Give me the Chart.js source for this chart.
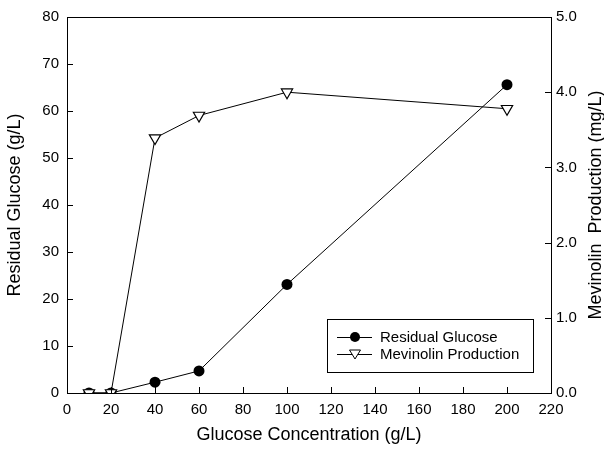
<!DOCTYPE html>
<html>
<head>
<meta charset="utf-8">
<script src="https://cdn.jsdelivr.net/npm/chart.js@4/dist/chart.umd.min.js"></script>
<style>
  html, body { margin: 0; padding: 0; background: #fff; }
  #wrap { width: 604px; height: 450px; }
</style>
</head>
<body>
<div id="wrap"><canvas id="chart" width="604" height="450"></canvas></div>
<script>
// data
const glucoseConc = [10, 20, 40, 60, 100, 200];
const residualGlucose = [0, 0, 2.3, 4.7, 23.1, 65.6];
const mevinolin = [0, 0, 3.39, 3.69, 4.0, 3.78];
const xTicks = [0, 20, 40, 60, 80, 100, 120, 140, 160, 180, 200, 220];

const FONT = 'Liberation Sans, Arial, Helvetica, sans-serif';

// frame, inward ticks, right title and boxed legend
const framePlugin = {
    id: 'frame',
    afterDraw(chart) {
        const c = chart.ctx;
        const a = chart.chartArea;
        const sx = chart.scales.x, sy = chart.scales.y, sy2 = chart.scales.y2;
        c.save();
        c.strokeStyle = '#000';
        c.lineWidth = 1;
        c.strokeRect(a.left + 0.5, a.top + 0.5, a.right - a.left, a.bottom - a.top);
        c.beginPath();
        sx.ticks.forEach(t => {
            const px = Math.round(sx.getPixelForValue(t.value)) + 0.5;
            c.moveTo(px, a.bottom); c.lineTo(px, a.bottom - 6);
        });
        sy.ticks.forEach(t => {
            const py = Math.round(sy.getPixelForValue(t.value)) + 0.5;
            c.moveTo(a.left, py); c.lineTo(a.left + 6, py);
        });
        sy2.ticks.forEach(t => {
            const py = Math.round(sy2.getPixelForValue(t.value)) + 0.5;
            c.moveTo(a.right, py); c.lineTo(a.right - 6, py);
        });
        c.stroke();

        // right axis title, reading bottom to top
        c.save();
        c.translate(596, (a.top + a.bottom) / 2);
        c.rotate(-Math.PI / 2);
        c.font = '18px ' + FONT;
        c.fillStyle = '#000';
        c.textAlign = 'center';
        c.textBaseline = 'middle';
        c.fillText('Mevinolin  Production (mg/L)', 0, 0);
        c.restore();

        // legend box
        const bx = a.left + 260, by = a.top + 302, bw = 206, bh = 53;
        c.fillStyle = '#fff';
        c.fillRect(bx, by, bw, bh);
        c.strokeRect(bx + 0.5, by + 0.5, bw, bh);
        const rows = [
            { label: 'Residual Glucose', y: by + 18, tri: false },
            { label: 'Mevinolin Production', y: by + 35, tri: true }
        ];
        c.font = '15px ' + FONT;
        c.textBaseline = 'middle';
        rows.forEach(r => {
            c.beginPath();
            c.moveTo(bx + 10, r.y + 0.5); c.lineTo(bx + 45, r.y + 0.5);
            c.stroke();
            const mx = bx + 28;
            if (r.tri) {
                c.beginPath();
                c.moveTo(mx - 5.5, r.y - 4);
                c.lineTo(mx + 5.5, r.y - 4);
                c.lineTo(mx, r.y + 5);
                c.closePath();
                c.fillStyle = '#fff'; c.fill(); c.stroke();
            } else {
                c.beginPath();
                c.arc(mx, r.y, 5, 0, Math.PI * 2);
                c.fillStyle = '#000'; c.fill();
            }
            c.fillStyle = '#000';
            c.fillText(r.label, bx + 53, r.y + 1);
        });
        c.restore();
    }
};

new Chart(document.getElementById('chart').getContext('2d'), {
    type: 'line',
    data: {
        datasets: [
            {
                label: 'Residual Glucose',
                data: glucoseConc.map((x, i) => ({ x: x, y: residualGlucose[i] })),
                yAxisID: 'y',
                borderColor: '#000',
                borderWidth: 1,
                backgroundColor: '#000',
                pointStyle: 'circle',
                pointRadius: 5.5,
                pointBorderWidth: 0,
                order: 1
            },
            {
                label: 'Mevinolin Production',
                data: glucoseConc.map((x, i) => ({ x: x, y: mevinolin[i] })),
                yAxisID: 'y2',
                borderColor: '#000',
                borderWidth: 1,
                backgroundColor: '#fff',
                pointBackgroundColor: '#fff',
                pointBorderColor: '#000',
                pointBorderWidth: 1.2,
                pointStyle: 'triangle',
                pointRotation: 180,
                pointRadius: 6.5,
                order: 0
            }
        ]
    },
    options: {
        responsive: false,
        animation: false,
        layout: { padding: { top: 17, left: 0, right: 0, bottom: 0 } },
        plugins: { legend: { display: false }, tooltip: { enabled: false } },
        scales: {
            x: {
                type: 'linear',
                min: 0, max: 220,
                afterBuildTicks: s => { s.ticks = xTicks.map(v => ({ value: v })); },
                afterFit: s => { s.height = 57; },
                grid: { display: false, drawTicks: false },
                border: { display: false },
                ticks: { color: '#000', font: { family: FONT, size: 15 }, padding: 8, maxRotation: 0 },
                title: { display: true, text: 'Glucose Concentration (g/L)', color: '#000', font: { family: FONT, size: 18 }, padding: { top: 6 } }
            },
            y: {
                position: 'left',
                min: 0, max: 80,
                afterFit: s => { s.width = 67; },
                grid: { display: false, drawTicks: false },
                border: { display: false },
                ticks: { stepSize: 10, color: '#000', font: { family: FONT, size: 15 }, padding: 8 },
                title: { display: true, text: 'Residual Glucose (g/L)', color: '#000', font: { family: FONT, size: 18 }, padding: { bottom: 4 } }
            },
            y2: {
                position: 'right',
                min: 0, max: 5,
                afterFit: s => { s.width = 53; },
                grid: { display: false, drawTicks: false },
                border: { display: false },
                ticks: { stepSize: 1, color: '#000', font: { family: FONT, size: 15 }, padding: 5, callback: v => v.toFixed(1) }
            }
        }
    },
    plugins: [framePlugin]
});
</script>
</body>
</html>
